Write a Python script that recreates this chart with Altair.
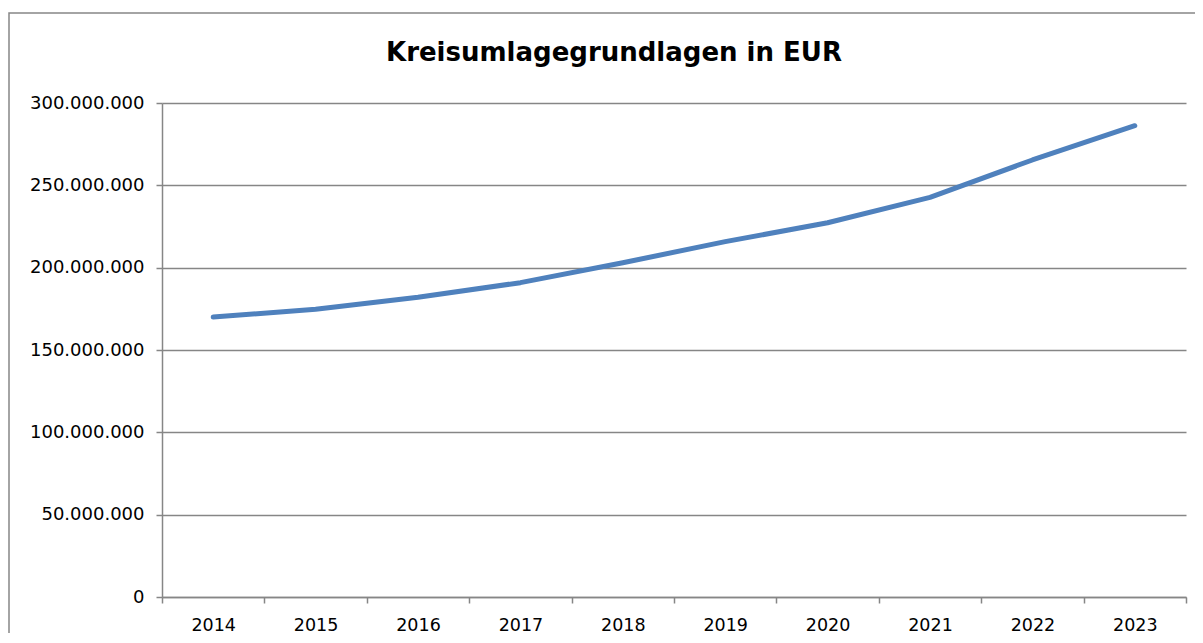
import altair as alt
import pandas as pd

years = ["2014", "2015", "2016", "2017", "2018", "2019", "2020", "2021", "2022", "2023"]
values = [170.0e6, 174.7e6, 182.0e6, 190.9e6, 203.0e6, 215.8e6, 227.3e6, 242.7e6, 265.4e6, 286.2e6]
y_ticks = [0, 50e6, 100e6, 150e6, 200e6, 250e6, 300e6]
title_text = "Kreisumlagegrundlagen in EUR"

df = pd.DataFrame({"Jahr": years, "Wert": values})

GRAY = "#868686"
FONT = "DejaVu Sans"

base = alt.Chart(df)

line = base.mark_line(color="#4F81BD", strokeWidth=5, strokeCap="round", strokeJoin="round").encode(
    x=alt.X(
        "Jahr:O",
        sort=years,
        title=None,
        scale=alt.Scale(paddingInner=0, paddingOuter=0),
        axis=alt.Axis(
            labelAngle=0,
            tickBand="extent",
            domainColor=GRAY,
            domainWidth=1.5,
            tickColor=GRAY,
            tickWidth=1.5,
            tickSize=6,
            labelPadding=13,
            labelFontSize=17.5,
            labelFont=FONT,
            labelColor="#000000",
            grid=False,
        ),
    ),
    y=alt.Y(
        "Wert:Q",
        title=None,
        scale=alt.Scale(domain=[0, 300e6], nice=False),
        axis=alt.Axis(
            values=y_ticks,
            format=",d",
            domainColor=GRAY,
            domainWidth=1.5,
            tickColor=GRAY,
            tickWidth=1.5,
            tickSize=6,
            labelPadding=12,
            labelFontSize=18,
            labelFont=FONT,
            labelColor="#000000",
            gridColor=GRAY,
            gridWidth=1.5,
            gridOpacity=1,
        ),
    ),
)

frame = alt.Chart(pd.DataFrame({"a": [0]})).mark_rect(
    fill=None, stroke=GRAY, strokeWidth=1.5
).encode(
    x=alt.value(-153),
    x2=alt.value(1100),
    y=alt.value(-90),
    y2=alt.value(700),
)

chart = alt.layer(frame, line).properties(
    width=1024,
    height=494,
    title=alt.TitleParams(
        title_text,
        font=FONT,
        fontSize=26,
        fontWeight="bold",
        color="#000000",
        anchor="middle",
        frame="group",
        dx=-60,
        offset=-54,
    ),
    autosize=alt.AutoSizeParams(type="none"),
    padding={"left": 154, "top": 95, "right": 9, "bottom": 36},
).configure_view(stroke=None)

chart.save(
    "out.html",
    embed_options={
        "renderer": "svg",
        "actions": False,
        "formatLocale": {"decimal": ",", "thousands": ".", "grouping": [3], "currency": ["", " €"]},
    },
)
